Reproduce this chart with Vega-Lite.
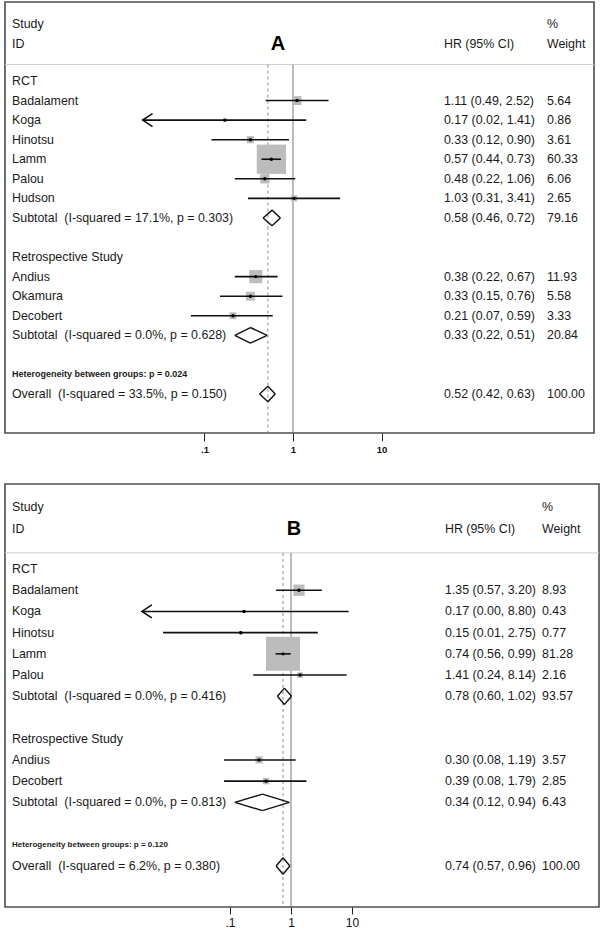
{
  "$schema": "https://vega.github.io/schema/vega-lite/v6.json",
  "background": "white",
  "padding": {"left": 3, "top": 1, "right": 0, "bottom": 0},
  "bounds": "flush",
  "spacing": 51,
  "config": {
    "font": "Liberation Sans",
    "view": {"stroke": "#4d4d4d", "strokeWidth": 1.6},
    "axis": {"grid": false},
    "axisY": {"disable": true},
    "text": {"color": "#1a1a1a", "baseline": "middle", "align": "left", "fontSize": 12.4}
  },
  "datasets": {
    "A": [
      {"row": -1.9, "kind": "header", "label": "Study", "wt": "%"},
      {"row": -0.9, "kind": "header", "label": "ID", "hr": "HR (95% CI)", "wt": "Weight", "letter": "A"},
      {"row": 1, "kind": "group", "label": "RCT"},
      {"row": 2, "kind": "study", "label": "Badalament", "est": 1.11, "lo": 0.49, "hi": 2.52, "w": 5.64, "hr": "1.11 (0.49, 2.52)", "wt": "5.64"},
      {"row": 3, "kind": "study", "label": "Koga", "est": 0.17, "lo": 0.02, "hi": 1.41, "w": 0.86, "hr": "0.17 (0.02, 1.41)", "wt": "0.86", "arrow": true},
      {"row": 4, "kind": "study", "label": "Hinotsu", "est": 0.33, "lo": 0.12, "hi": 0.90, "w": 3.61, "hr": "0.33 (0.12, 0.90)", "wt": "3.61"},
      {"row": 5, "kind": "study", "label": "Lamm", "est": 0.57, "lo": 0.44, "hi": 0.73, "w": 60.33, "hr": "0.57 (0.44, 0.73)", "wt": "60.33"},
      {"row": 6, "kind": "study", "label": "Palou", "est": 0.48, "lo": 0.22, "hi": 1.06, "w": 6.06, "hr": "0.48 (0.22, 1.06)", "wt": "6.06"},
      {"row": 7, "kind": "study", "label": "Hudson", "est": 1.03, "lo": 0.31, "hi": 3.41, "w": 2.65, "hr": "1.03 (0.31, 3.41)", "wt": "2.65"},
      {"row": 8, "kind": "subtotal", "label": "Subtotal\u00a0 (I-squared = 17.1%, p = 0.303)", "est": 0.58, "lo": 0.46, "hi": 0.72, "hr": "0.58 (0.46, 0.72)", "wt": "79.16"},
      {"row": 10, "kind": "group", "label": "Retrospective Study"},
      {"row": 11, "kind": "study", "label": "Andius", "est": 0.38, "lo": 0.22, "hi": 0.67, "w": 11.93, "hr": "0.38 (0.22, 0.67)", "wt": "11.93"},
      {"row": 12, "kind": "study", "label": "Okamura", "est": 0.33, "lo": 0.15, "hi": 0.76, "w": 5.58, "hr": "0.33 (0.15, 0.76)", "wt": "5.58"},
      {"row": 13, "kind": "study", "label": "Decobert", "est": 0.21, "lo": 0.07, "hi": 0.59, "w": 3.33, "hr": "0.21 (0.07, 0.59)", "wt": "3.33"},
      {"row": 14, "kind": "subtotal", "label": "Subtotal\u00a0 (I-squared = 0.0%, p = 0.628)", "est": 0.33, "lo": 0.22, "hi": 0.51, "hr": "0.33 (0.22, 0.51)", "wt": "20.84"},
      {"row": 16, "kind": "het", "label": "Heterogeneity between groups: p = 0.024"},
      {"row": 17, "kind": "overall", "label": "Overall\u00a0 (I-squared = 33.5%, p = 0.150)", "est": 0.52, "lo": 0.42, "hi": 0.63, "hr": "0.52 (0.42, 0.63)", "wt": "100.00"}
    ],
    "B": [
      {"row": -1.9, "kind": "header", "label": "Study", "wt": "%"},
      {"row": -0.9, "kind": "header", "label": "ID", "hr": "HR (95% CI)", "wt": "Weight", "letter": "B"},
      {"row": 1, "kind": "group", "label": "RCT"},
      {"row": 2, "kind": "study", "label": "Badalament", "est": 1.35, "lo": 0.57, "hi": 3.20, "w": 8.93, "hr": "1.35 (0.57, 3.20)", "wt": "8.93"},
      {"row": 3, "kind": "study", "label": "Koga", "est": 0.17, "lo": 0.0036, "hi": 8.80, "w": 0.43, "hr": "0.17 (0.00, 8.80)", "wt": "0.43", "arrow": true},
      {"row": 4, "kind": "study", "label": "Hinotsu", "est": 0.15, "lo": 0.008, "hi": 2.75, "w": 0.77, "hr": "0.15 (0.01, 2.75)", "wt": "0.77"},
      {"row": 5, "kind": "study", "label": "Lamm", "est": 0.74, "lo": 0.56, "hi": 0.99, "w": 81.28, "hr": "0.74 (0.56, 0.99)", "wt": "81.28"},
      {"row": 6, "kind": "study", "label": "Palou", "est": 1.41, "lo": 0.24, "hi": 8.14, "w": 2.16, "hr": "1.41 (0.24, 8.14)", "wt": "2.16"},
      {"row": 7, "kind": "subtotal", "label": "Subtotal\u00a0 (I-squared = 0.0%, p = 0.416)", "est": 0.78, "lo": 0.60, "hi": 1.02, "hr": "0.78 (0.60, 1.02)", "wt": "93.57"},
      {"row": 9, "kind": "group", "label": "Retrospective Study"},
      {"row": 10, "kind": "study", "label": "Andius", "est": 0.30, "lo": 0.08, "hi": 1.19, "w": 3.57, "hr": "0.30 (0.08, 1.19)", "wt": "3.57"},
      {"row": 11, "kind": "study", "label": "Decobert", "est": 0.39, "lo": 0.08, "hi": 1.79, "w": 2.85, "hr": "0.39 (0.08, 1.79)", "wt": "2.85"},
      {"row": 12, "kind": "subtotal", "label": "Subtotal\u00a0 (I-squared = 0.0%, p = 0.813)", "est": 0.34, "lo": 0.12, "hi": 0.94, "hr": "0.34 (0.12, 0.94)", "wt": "6.43"},
      {"row": 14, "kind": "het", "label": "Heterogeneity between groups: p = 0.120"},
      {"row": 15, "kind": "overall", "label": "Overall\u00a0 (I-squared = 6.2%, p = 0.380)", "est": 0.74, "lo": 0.57, "hi": 0.96, "hr": "0.74 (0.57, 0.96)", "wt": "100.00"}
    ]
  },
  "vconcat": [
    {
      "width": 589,
      "height": 431,
      "data": {"name": "A"},
      "encoding": {
        "y": {"field": "row", "type": "quantitative", "scale": {"domain": [-3.038, 18.994], "reverse": true, "nice": false, "zero": false}, "axis": null}
      },
      "layer": [
        {"transform": [{"filter": "datum.kind == 'overall'"}], "mark": {"type": "rule", "color": "#cfcfcf", "strokeWidth": 1},
         "encoding": {"y": {"datum": 0.16, "type": "quantitative", "axis": null}}},
        {"transform": [{"filter": "datum.kind == 'overall'"}], "mark": {"type": "rule", "color": "#7a7a7a", "strokeWidth": 1},
         "encoding": {"x": {"datum": 1, "type": "quantitative", "scale": {"type": "log", "domain": [0.000557, 2518], "nice": false}},
                      "y": {"datum": 0.16, "type": "quantitative", "axis": null}, "y2": {"datum": 18.994}}},
        {"transform": [{"filter": "datum.kind == 'overall'"}], "mark": {"type": "rule", "color": "#8c8c8c", "strokeWidth": 1, "strokeDash": [3, 3]},
         "encoding": {"x": {"field": "est", "type": "quantitative", "scale": {"type": "log", "domain": [0.000557, 2518], "nice": false}},
                      "y": {"datum": 0.16, "type": "quantitative", "axis": null}, "y2": {"datum": 18.994}}},
        {"transform": [{"filter": "datum.kind == 'study'"}], "mark": {"type": "point", "shape": "square", "filled": true, "color": "#bcbcbc", "opacity": 1, "strokeWidth": 0},
         "encoding": {"x": {"field": "est", "type": "quantitative", "scale": {"type": "log", "domain": [0.000557, 2518], "nice": false}},
                      "size": {"field": "w", "type": "quantitative", "scale": {"domain": [0, 60.33], "range": [0, 1156]}, "legend": null}}},
        {"transform": [{"filter": "datum.kind == 'study'"}], "mark": {"type": "rule", "color": "#111111", "strokeWidth": 1.6},
         "encoding": {"x": {"field": "lo", "type": "quantitative", "scale": {"type": "log", "domain": [0.000557, 2518], "nice": false},
                            "axis": {"values": [0.1, 1, 10], "domain": false, "grid": false, "tickSize": 8, "tickColor": "#222222", "tickWidth": 1,
                                     "labelExpr": "datum.value < 0.5 ? '.1' : (datum.value < 5 ? '1' : '10')", "labelFontSize": 9.5, "labelFontWeight": "bold",
                                     "labelColor": "#111111", "labelPadding": 3, "title": null, "labelFlush": false, "labelOverlap": false}},
                      "x2": {"field": "hi"}}},
        {"transform": [{"filter": "datum.kind == 'study'"}], "mark": {"type": "point", "shape": "circle", "filled": true, "color": "#000000", "opacity": 1, "size": 12},
         "encoding": {"x": {"field": "est", "type": "quantitative", "scale": {"type": "log", "domain": [0.000557, 2518], "nice": false}}}},
        {"transform": [{"filter": "datum.arrow === true"}], "mark": {"type": "point", "shape": "M2.2,-1.45L0,0L2.2,1.45", "filled": false, "color": "#111111", "strokeWidth": 1.6, "opacity": 1, "size": 81},
         "encoding": {"x": {"field": "lo", "type": "quantitative", "scale": {"type": "log", "domain": [0.000557, 2518], "nice": false}}}},
        {"transform": [{"filter": "datum.kind == 'subtotal' || datum.kind == 'overall'"}], "mark": {"type": "rule", "color": "#111111", "strokeWidth": 1.4, "y2Offset": -7.8},
         "encoding": {"x": {"field": "lo", "type": "quantitative", "scale": {"type": "log", "domain": [0.000557, 2518], "nice": false}},
                      "x2": {"field": "est"}, "y2": {"field": "row"}}},
        {"transform": [{"filter": "datum.kind == 'subtotal' || datum.kind == 'overall'"}], "mark": {"type": "rule", "color": "#111111", "strokeWidth": 1.4, "yOffset": -7.8},
         "encoding": {"x": {"field": "est", "type": "quantitative", "scale": {"type": "log", "domain": [0.000557, 2518], "nice": false}},
                      "x2": {"field": "hi"}, "y2": {"field": "row"}}},
        {"transform": [{"filter": "datum.kind == 'subtotal' || datum.kind == 'overall'"}], "mark": {"type": "rule", "color": "#111111", "strokeWidth": 1.4, "y2Offset": 7.8},
         "encoding": {"x": {"field": "lo", "type": "quantitative", "scale": {"type": "log", "domain": [0.000557, 2518], "nice": false}},
                      "x2": {"field": "est"}, "y2": {"field": "row"}}},
        {"transform": [{"filter": "datum.kind == 'subtotal' || datum.kind == 'overall'"}], "mark": {"type": "rule", "color": "#111111", "strokeWidth": 1.4, "yOffset": 7.8},
         "encoding": {"x": {"field": "est", "type": "quantitative", "scale": {"type": "log", "domain": [0.000557, 2518], "nice": false}},
                      "x2": {"field": "hi"}, "y2": {"field": "row"}}},
        {"transform": [{"filter": "datum.kind != 'het' && isValid(datum.label)"}], "mark": {"type": "text"},
         "encoding": {"x": {"datum": 0.000668, "type": "quantitative", "scale": {"type": "log", "domain": [0.000557, 2518], "nice": false}},
                      "text": {"field": "label"}}},
        {"transform": [{"filter": "datum.kind == 'het'"}], "mark": {"type": "text", "fontSize": 9, "fontWeight": "bold"},
         "encoding": {"x": {"datum": 0.000668, "type": "quantitative", "scale": {"type": "log", "domain": [0.000557, 2518], "nice": false}},
                      "text": {"field": "label"}}},
        {"transform": [{"filter": "isValid(datum.hr)"}], "mark": {"type": "text"},
         "encoding": {"x": {"datum": 50.8, "type": "quantitative", "scale": {"type": "log", "domain": [0.000557, 2518], "nice": false}},
                      "text": {"field": "hr"}}},
        {"transform": [{"filter": "isValid(datum.wt)"}], "mark": {"type": "text"},
         "encoding": {"x": {"datum": 741, "type": "quantitative", "scale": {"type": "log", "domain": [0.000557, 2518], "nice": false}},
                      "text": {"field": "wt"}}},
        {"transform": [{"filter": "isValid(datum.letter)"}], "mark": {"type": "text", "align": "center", "fontSize": 20, "fontWeight": "bold", "color": "#000000"},
         "encoding": {"x": {"datum": 0.677, "type": "quantitative", "scale": {"type": "log", "domain": [0.000557, 2518], "nice": false}},
                      "text": {"field": "letter"}}}
      ]
    },
    {
      "width": 594,
      "height": 423,
      "data": {"name": "B"},
      "encoding": {
        "y": {"field": "row", "type": "quantitative", "scale": {"domain": [-3.007, 16.933], "reverse": true, "nice": false, "zero": false}, "axis": null}
      },
      "layer": [
        {"transform": [{"filter": "datum.kind == 'overall'"}], "mark": {"type": "rule", "color": "#cfcfcf", "strokeWidth": 1},
         "encoding": {"y": {"datum": 0.24, "type": "quantitative", "axis": null}}},
        {"transform": [{"filter": "datum.kind == 'overall'"}], "mark": {"type": "rule", "color": "#7a7a7a", "strokeWidth": 1},
         "encoding": {"x": {"datum": 1, "type": "quantitative", "scale": {"type": "log", "domain": [0.00002049, 111990], "nice": false}},
                      "y": {"datum": 0.24, "type": "quantitative", "axis": null}, "y2": {"datum": 16.933}}},
        {"transform": [{"filter": "datum.kind == 'overall'"}], "mark": {"type": "rule", "color": "#8c8c8c", "strokeWidth": 1, "strokeDash": [3, 3]},
         "encoding": {"x": {"field": "est", "type": "quantitative", "scale": {"type": "log", "domain": [0.00002049, 111990], "nice": false}},
                      "y": {"datum": 0.24, "type": "quantitative", "axis": null}, "y2": {"datum": 16.933}}},
        {"transform": [{"filter": "datum.kind == 'study'"}], "mark": {"type": "point", "shape": "square", "filled": true, "color": "#bcbcbc", "opacity": 1, "strokeWidth": 0},
         "encoding": {"x": {"field": "est", "type": "quantitative", "scale": {"type": "log", "domain": [0.00002049, 111990], "nice": false}},
                      "size": {"field": "w", "type": "quantitative", "scale": {"domain": [0, 81.28], "range": [0, 1156]}, "legend": null}}},
        {"transform": [{"filter": "datum.kind == 'study'"}], "mark": {"type": "rule", "color": "#111111", "strokeWidth": 1.6},
         "encoding": {"x": {"field": "lo", "type": "quantitative", "scale": {"type": "log", "domain": [0.00002049, 111990], "nice": false},
                            "axis": {"values": [0.1, 1, 10], "domain": false, "grid": false, "tickSize": 7, "tickColor": "#222222", "tickWidth": 1,
                                     "labelExpr": "datum.value < 0.5 ? '.1' : (datum.value < 5 ? '1' : '10')", "labelFontSize": 12,
                                     "labelColor": "#111111", "labelPadding": 3, "title": null, "labelFlush": false, "labelOverlap": false}},
                      "x2": {"field": "hi"}}},
        {"transform": [{"filter": "datum.kind == 'study'"}], "mark": {"type": "point", "shape": "circle", "filled": true, "color": "#000000", "opacity": 1, "size": 12},
         "encoding": {"x": {"field": "est", "type": "quantitative", "scale": {"type": "log", "domain": [0.00002049, 111990], "nice": false}}}},
        {"transform": [{"filter": "datum.arrow === true"}], "mark": {"type": "point", "shape": "M2.2,-1.45L0,0L2.2,1.45", "filled": false, "color": "#111111", "strokeWidth": 1.6, "opacity": 1, "size": 81},
         "encoding": {"x": {"field": "lo", "type": "quantitative", "scale": {"type": "log", "domain": [0.00002049, 111990], "nice": false}}}},
        {"transform": [{"filter": "datum.kind == 'subtotal' || datum.kind == 'overall'"}], "mark": {"type": "rule", "color": "#111111", "strokeWidth": 1.4, "y2Offset": -8.2},
         "encoding": {"x": {"field": "lo", "type": "quantitative", "scale": {"type": "log", "domain": [0.00002049, 111990], "nice": false}},
                      "x2": {"field": "est"}, "y2": {"field": "row"}}},
        {"transform": [{"filter": "datum.kind == 'subtotal' || datum.kind == 'overall'"}], "mark": {"type": "rule", "color": "#111111", "strokeWidth": 1.4, "yOffset": -8.2},
         "encoding": {"x": {"field": "est", "type": "quantitative", "scale": {"type": "log", "domain": [0.00002049, 111990], "nice": false}},
                      "x2": {"field": "hi"}, "y2": {"field": "row"}}},
        {"transform": [{"filter": "datum.kind == 'subtotal' || datum.kind == 'overall'"}], "mark": {"type": "rule", "color": "#111111", "strokeWidth": 1.4, "y2Offset": 8.2},
         "encoding": {"x": {"field": "lo", "type": "quantitative", "scale": {"type": "log", "domain": [0.00002049, 111990], "nice": false}},
                      "x2": {"field": "est"}, "y2": {"field": "row"}}},
        {"transform": [{"filter": "datum.kind == 'subtotal' || datum.kind == 'overall'"}], "mark": {"type": "rule", "color": "#111111", "strokeWidth": 1.4, "yOffset": 8.2},
         "encoding": {"x": {"field": "est", "type": "quantitative", "scale": {"type": "log", "domain": [0.00002049, 111990], "nice": false}},
                      "x2": {"field": "hi"}, "y2": {"field": "row"}}},
        {"transform": [{"filter": "datum.kind != 'het' && isValid(datum.label)"}], "mark": {"type": "text"},
         "encoding": {"x": {"datum": 0.0000267, "type": "quantitative", "scale": {"type": "log", "domain": [0.00002049, 111990], "nice": false}},
                      "text": {"field": "label"}}},
        {"transform": [{"filter": "datum.kind == 'het'"}], "mark": {"type": "text", "fontSize": 8, "fontWeight": "bold"},
         "encoding": {"x": {"datum": 0.0000267, "type": "quantitative", "scale": {"type": "log", "domain": [0.00002049, 111990], "nice": false}},
                      "text": {"field": "label"}}},
        {"transform": [{"filter": "isValid(datum.hr)"}], "mark": {"type": "text"},
         "encoding": {"x": {"datum": 334.6, "type": "quantitative", "scale": {"type": "log", "domain": [0.00002049, 111990], "nice": false}},
                      "text": {"field": "hr"}}},
        {"transform": [{"filter": "isValid(datum.wt)"}], "mark": {"type": "text"},
         "encoding": {"x": {"datum": 13030, "type": "quantitative", "scale": {"type": "log", "domain": [0.00002049, 111990], "nice": false}},
                      "text": {"field": "wt"}}},
        {"transform": [{"filter": "isValid(datum.letter)"}], "mark": {"type": "text", "align": "center", "fontSize": 20, "fontWeight": "bold", "color": "#000000"},
         "encoding": {"x": {"datum": 1.12, "type": "quantitative", "scale": {"type": "log", "domain": [0.00002049, 111990], "nice": false}},
                      "text": {"field": "letter"}}}
      ]
    }
  ]
}
